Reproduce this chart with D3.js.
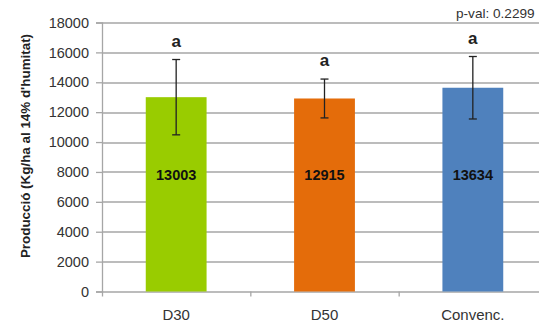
<!DOCTYPE html>
<html>
<head>
<meta charset="utf-8">
<script src="https://cdn.jsdelivr.net/npm/d3@7"></script>
<style>
  body { margin: 0; background: #fff; }
  svg { display: block; font-family: "Liberation Sans", Arial, sans-serif; }
</style>
</head>
<body>
<svg width="539" height="332"></svg>
<script>
const categories = ["D30", "D50", "Convenc."];
const values = [13003, 12915, 13634];
const errors = [2520, 1300, 2090];
const letters = ["a", "a", "a"];
const colors = ["#99CC00", "#E46C0A", "#4F81BD"];
const yTicks = [0, 2000, 4000, 6000, 8000, 10000, 12000, 14000, 16000, 18000];

const svg = d3.select("svg");

const margin = { top: 22.5, left: 102, bottom: 40.5 };
const graphWidth = 445;
const graphHeight = 332 - margin.top - margin.bottom;

const graph = svg.append("g")
  .attr("transform", `translate(${margin.left},${margin.top})`);

const y = d3.scaleLinear().domain([0, 18000]).range([graphHeight, 0]);
const x = d3.scaleBand()
  .domain(categories)
  .range([0, graphWidth])
  .paddingInner(0.59)
  .paddingOuter(0.295);

// gridlines
graph.append("g")
  .selectAll("line")
  .data(yTicks.filter(d => d > 0))
  .enter()
  .append("line")
  .attr("x1", 0)
  .attr("x2", graphWidth)
  .attr("y1", d => Math.round(y(d)) + 0.5)
  .attr("y2", d => Math.round(y(d)) + 0.5)
  .attr("stroke", "#a6a6a6")
  .attr("stroke-width", 1.3);

// y axis
const yAxis = d3.axisLeft(y).tickValues(yTicks).tickSize(6).tickPadding(7).tickFormat(d3.format("d"));
const yG = graph.append("g").call(yAxis);
yG.select(".domain").attr("stroke", "#a6a6a6").attr("stroke-width", 1.3);
yG.selectAll(".tick line").attr("stroke", "#a6a6a6").attr("stroke-width", 1.3);
yG.selectAll("text")
  .attr("font-size", 14.5)
  .attr("fill", "#333")
  .attr("font-family", "'Liberation Sans', Arial, sans-serif");

// x axis with ticks between categories
const xG = graph.append("g").attr("transform", `translate(0,${graphHeight})`);
xG.append("line")
  .attr("x1", 0).attr("x2", graphWidth)
  .attr("y1", 0.5).attr("y2", 0.5)
  .attr("stroke", "#a6a6a6").attr("stroke-width", 1.3);
const step = x.step();
xG.selectAll(".sep")
  .data(d3.range(categories.length + 1))
  .enter()
  .append("line")
  .attr("x1", i => i * step + 0.5)
  .attr("x2", i => i * step + 0.5)
  .attr("y1", 0)
  .attr("y2", 5)
  .attr("stroke", "#a6a6a6").attr("stroke-width", 1.3);
xG.selectAll(".cat")
  .data(categories)
  .enter()
  .append("text")
  .attr("x", d => x(d) + x.bandwidth() / 2)
  .attr("y", 28)
  .attr("text-anchor", "middle")
  .attr("font-size", 15)
  .attr("fill", "#333")
  .text(d => d);

const data = categories.map((c, i) => ({ name: c, value: values[i], err: errors[i], letter: letters[i], color: colors[i] }));

// bars
graph.selectAll("rect.bar")
  .data(data)
  .enter()
  .append("rect")
  .attr("class", "bar")
  .attr("x", d => x(d.name))
  .attr("width", x.bandwidth())
  .attr("y", d => y(d.value))
  .attr("height", d => graphHeight - y(d.value))
  .attr("fill", d => d.color);

// error bars
const eb = graph.selectAll("g.err").data(data).enter().append("g")
  .attr("transform", d => `translate(${x(d.name) + x.bandwidth() / 2},0)`);
eb.append("line")
  .attr("y1", d => y(d.value + d.err)).attr("y2", d => y(d.value - d.err))
  .attr("stroke", "#222").attr("stroke-width", 1.3);
eb.append("line")
  .attr("x1", -4).attr("x2", 4)
  .attr("y1", d => y(d.value + d.err)).attr("y2", d => y(d.value + d.err))
  .attr("stroke", "#222").attr("stroke-width", 1.3);
eb.append("line")
  .attr("x1", -4).attr("x2", 4)
  .attr("y1", d => y(d.value - d.err)).attr("y2", d => y(d.value - d.err))
  .attr("stroke", "#222").attr("stroke-width", 1.3);

// significance letters
eb.append("text")
  .attr("y", d => y(d.value + d.err) - 13)
  .attr("text-anchor", "middle")
  .attr("font-size", 17)
  .attr("font-weight", "bold")
  .attr("fill", "#222")
  .text(d => d.letter);

// value labels
eb.append("text")
  .attr("y", y(7800) + 5.5)
  .attr("text-anchor", "middle")
  .attr("font-size", 14.5)
  .attr("font-weight", "bold")
  .attr("fill", "#111")
  .text(d => d.value);

// y axis title
svg.append("text")
  .attr("transform", `translate(30,146) rotate(-90)`)
  .attr("text-anchor", "middle")
  .attr("font-size", 13.4)
  .attr("font-weight", "bold")
  .attr("fill", "#222")
  .text("Producció (Kg/ha al 14% d'humitat)");

// p-value note
svg.append("text")
  .attr("x", 456)
  .attr("y", 17.5)
  .attr("font-size", 13.6)
  .attr("fill", "#333")
  .text("p-val: 0.2299");
</script>
</body>
</html>
